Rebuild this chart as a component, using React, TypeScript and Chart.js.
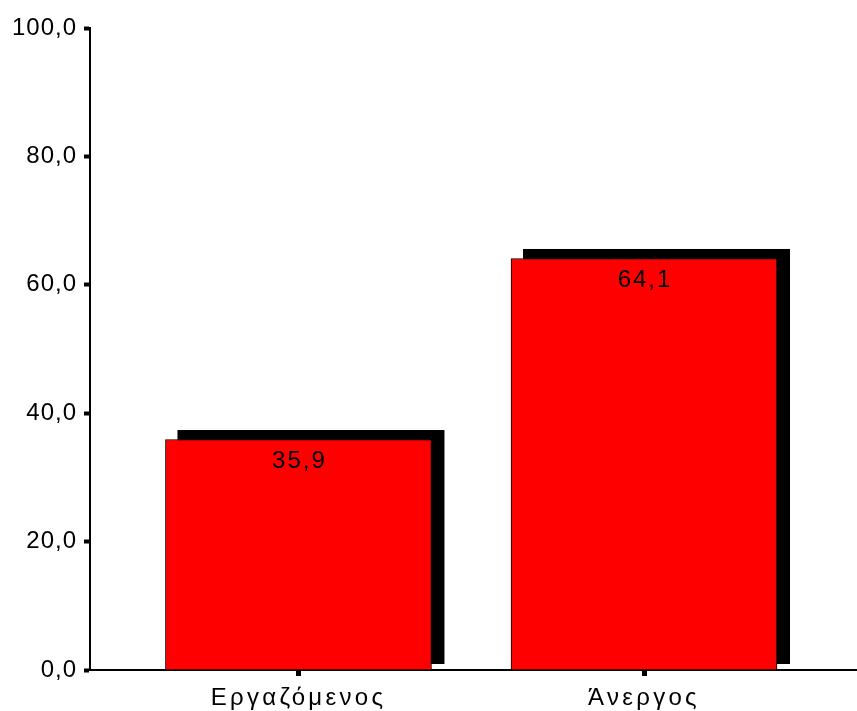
import React, { useEffect, useRef } from "react";
import { Chart, registerables } from "chart.js";

Chart.register(...registerables);

const categories: string[] = ["Εργαζόμενος", "Άνεργος"];
const values: number[] = [35.9, 64.1];
const yTicks: number[] = [0, 20, 40, 60, 80, 100];

const FONT = "'Liberation Sans', Arial, sans-serif";
const fmt = (v: number) => v.toFixed(1).replace(".", ",");

const withSpacing = (sp: string) => (scale: any) => {
  if (scale._spPatched) return;
  const orig = scale.drawLabels.bind(scale);
  scale.drawLabels = (area: any) => {
    scale.ctx.letterSpacing = sp;
    orig(area);
    scale.ctx.letterSpacing = "0px";
  };
  scale._spPatched = true;
};

const shadowPlugin = {
  id: "shadow",
  beforeDatasetsDraw(chart: any) {
    const ctx = chart.ctx;
    const meta = chart.getDatasetMeta(0);
    const base = chart.scales.y.getPixelForValue(0);
    ctx.save();
    ctx.fillStyle = "#000";
    meta.data.forEach((bar: any) => {
      const w = bar.width;
      const left = bar.x - w / 2 + 12;
      const right = bar.x + w / 2 + 13;
      const top = bar.y - 9.5;
      const bottom = base - 6;
      ctx.fillRect(left, top, right - left, bottom - top);
    });
    ctx.restore();
  },
};

const labelPlugin = {
  id: "valueLabels",
  afterDatasetsDraw(chart: any) {
    const ctx = chart.ctx;
    const meta = chart.getDatasetMeta(0);
    ctx.save();
    ctx.letterSpacing = "2px";
    ctx.font = `24px ${FONT}`;
    ctx.fillStyle = "#000";
    ctx.textAlign = "center";
    ctx.textBaseline = "top";
    meta.data.forEach((bar: any, i: number) => {
      ctx.fillText(fmt(values[i]), bar.x + 1, bar.y + 10);
    });
    ctx.restore();
  },
};

export default function App() {
  const ref = useRef<HTMLCanvasElement>(null);
  useEffect(() => {
    if (!ref.current) return;
    const chart = new Chart(ref.current, {
      type: "bar",
      data: {
        datasets: [
          {
            data: values.map((v, i) => ({ x: i, y: v })),
            backgroundColor: "#ff0000",
            borderColor: "#000",
            borderWidth: 1,
            barThickness: 266,
          },
        ],
      },
      options: {
        responsive: false,
        animation: false,
        layout: { padding: { top: 28, right: 0, left: 0, bottom: 0 } },
        plugins: { legend: { display: false }, tooltip: { enabled: false } },
        scales: {
          x: {
            type: "linear",
            offset: false,
            bounds: "data",
            min: -0.6033,
            max: 1.6164,
            afterDataLimits: (scale: any) => {
              scale.min = -0.6033;
              scale.max = 1.6164;
            },
            afterBuildTicks: (scale: any) => {
              scale.ticks = categories.map((_, i) => ({ value: i }));
            },
            afterFit: (scale: any) => {
              scale.height = 41;
            },
            afterUpdate: withSpacing("3.3px"),
            ticks: {
              callback: (v: any) => categories[v] ?? "",
              color: "#000",
              font: { family: FONT, size: 24 },
              padding: 8,
              maxRotation: 0,
              autoSkip: false,
            },
            grid: {
              offset: false,
              drawOnChartArea: false,
              tickLength: 6,
              tickWidth: 5,
              color: "#000",
            },
            border: { display: true, color: "#000", width: 2 },
          },
          y: {
            min: 0,
            max: 100,
            afterBuildTicks: (scale: any) => {
              scale.ticks = yTicks.map((v) => ({ value: v }));
            },
            afterFit: (scale: any) => {
              scale.width = 90;
            },
            afterUpdate: withSpacing("1px"),
            ticks: {
              callback: (v: any) => fmt(Number(v)),
              color: "#000",
              font: { family: FONT, size: 24 },
              padding: 7,
            },
            grid: {
              drawOnChartArea: false,
              tickLength: 6,
              tickWidth: 4,
              color: "#000",
            },
            border: { display: true, color: "#000", width: 2 },
          },
        },
      },
      plugins: [shadowPlugin, labelPlugin],
    } as any);
    return () => chart.destroy();
  }, []);
  return (
    <div style={{ position: "absolute", left: 0, top: 0, width: 857, height: 711, background: "#fff" }}>
      <canvas ref={ref} width={857} height={711} />
    </div>
  );
}
